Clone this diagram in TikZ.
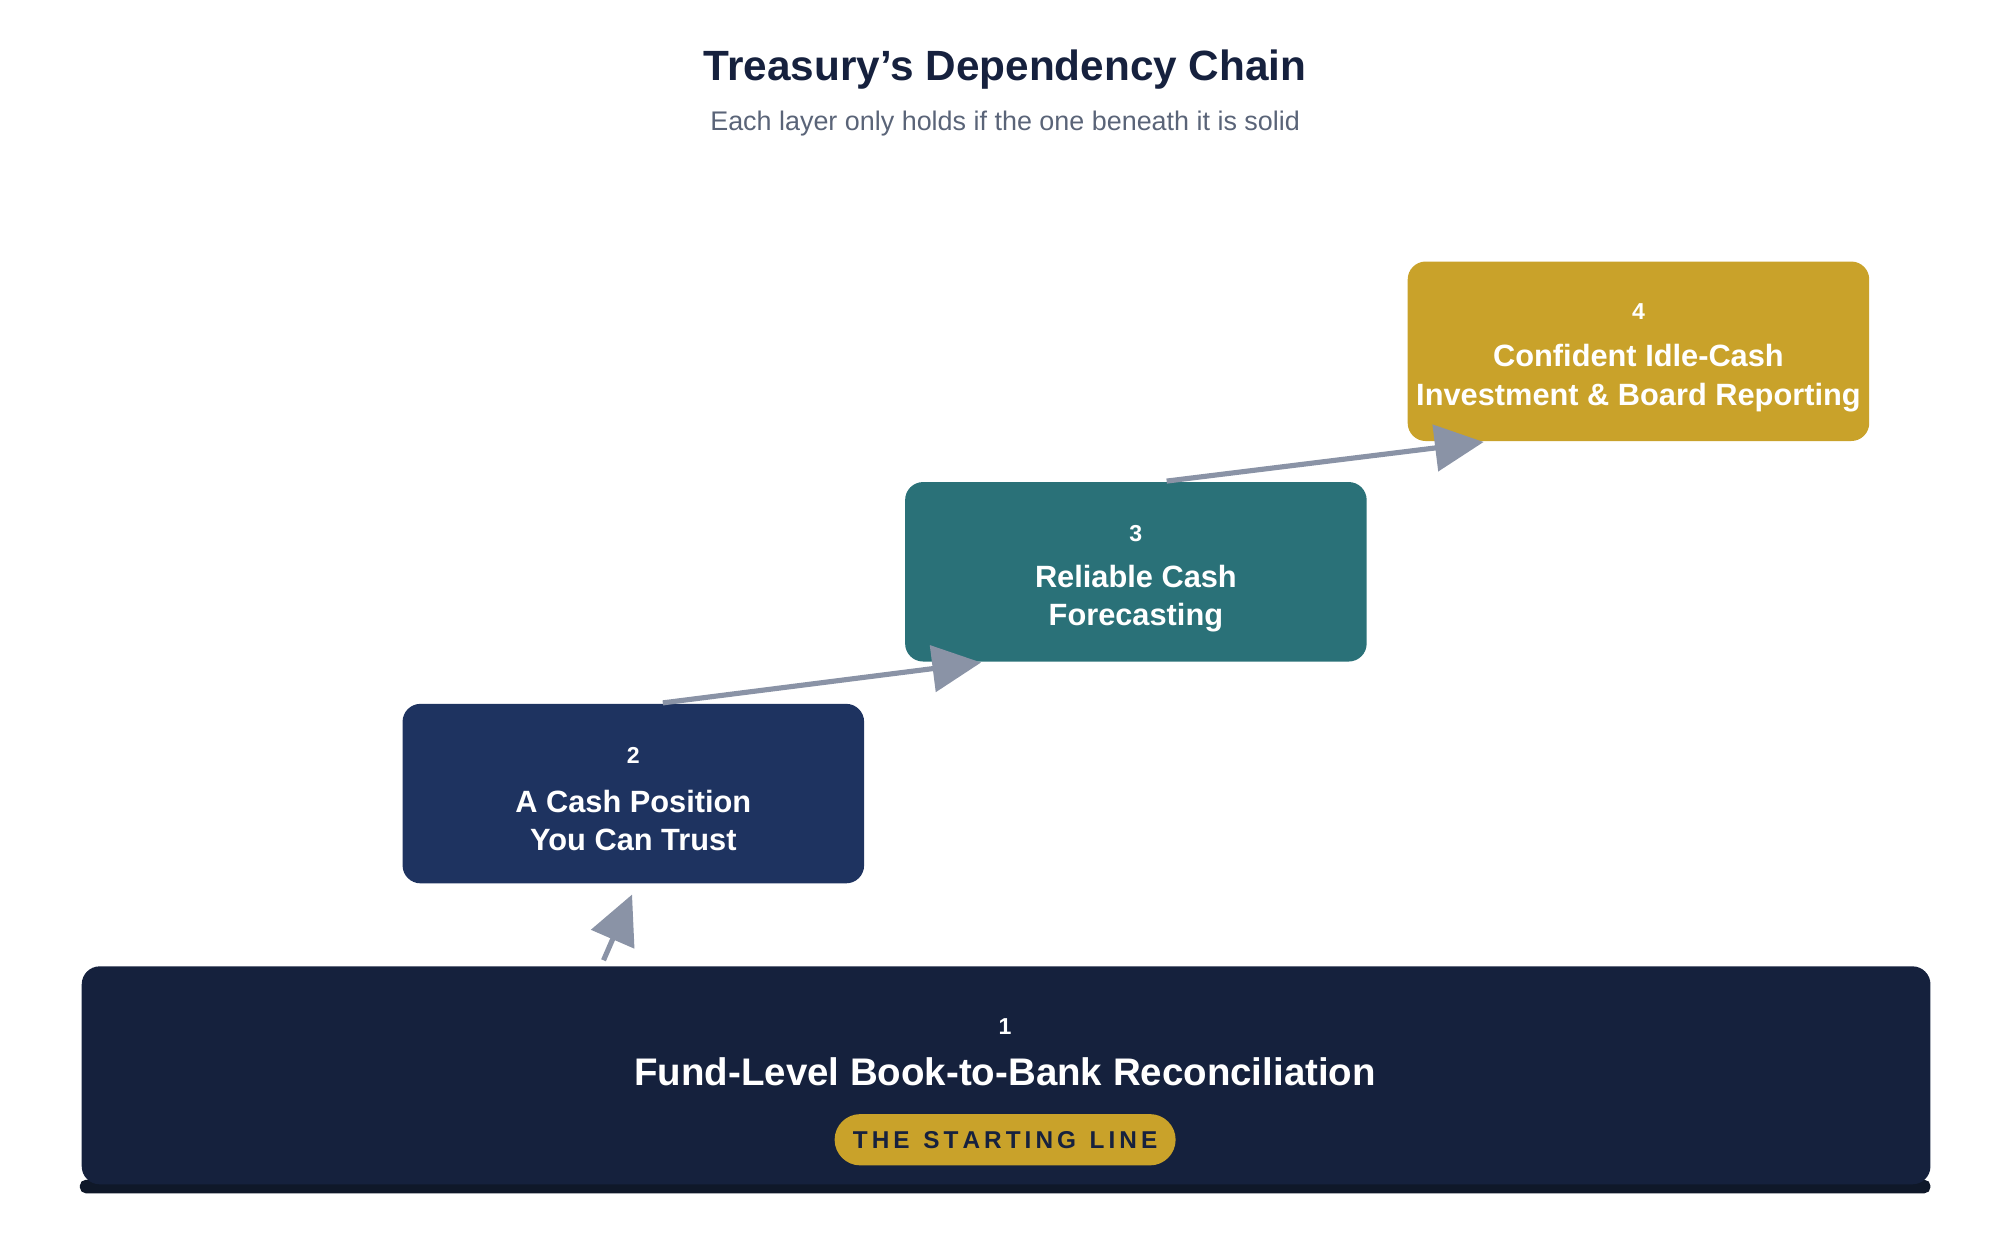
\documentclass[tikz,border=0pt]{standalone}
\usepackage{fontspec}
\setmainfont{Liberation Sans}
\usetikzlibrary{arrows.meta,calc}
\definecolor{inkNavy}{HTML}{16213E}
\definecolor{subGray}{HTML}{5A6478}
\definecolor{goldTier}{HTML}{C9A22A}
\definecolor{tealTier}{HTML}{2A7178}
\definecolor{navyTier}{HTML}{1E3360}
\definecolor{baseTier}{HTML}{15213D}
\definecolor{baseEdge}{HTML}{0F1829}
\definecolor{linkGray}{HTML}{8A93A6}
\tikzset{every picture/.style={line width=0.75pt}}
\tikzset{
  tier/.style={rounded corners=7pt, minimum width=180pt, minimum height=70pt, inner sep=0pt},
  tiertext/.style={text=white, font=\bfseries\fontsize{12}{15}\selectfont, align=center},
  tiernum/.style={text=white, font=\bfseries\fontsize{9}{11}\selectfont},
  link/.style={draw=linkGray, line width=2pt, -{Triangle[length=19pt,width=18pt]}}
}
\begin{document}
\begin{tikzpicture}[x=0.5pt,y=0.5pt,yscale=-1,xscale=1]
\useasboundingbox (0,0) rectangle (1560,967);

% title
\node (title) [text=inkNavy, font=\bfseries\fontsize{16.5}{20}\selectfont] at (784,54) {Treasury's Dependency Chain};
\node (subtitle) [text=subGray, font=\fontsize{10.5}{13}\selectfont] at (784,96) {Each layer only holds if the one beneath it is solid};

% tier 1 (base)
\draw [baseEdge, fill=baseEdge, rounded corners=2pt] (63,921) rectangle (1505,930);
\node (b1) [tier, fill=baseTier, minimum width=721pt, minimum height=85pt, anchor=north west] at (63,753) {};
\node (n1) [tiernum] at (784,801) {1};
\node (t1) [text=white, font=\bfseries\fontsize{15}{18}\selectfont] at (784,836) {Fund-Level Book-to-Bank Reconciliation};
\node (pill) [fill=goldTier, rounded corners=10pt, minimum width=133pt, minimum height=20pt, text=inkNavy, font=\bfseries\fontsize{9.5}{11}\selectfont] at (784,889) {T\,H\,E\ \ S\,T\,A\,R\,T\,I\,N\,G\ \ L\,I\,N\,E};

% tier 2
\node (b2) [tier, fill=navyTier] at (494,619) {};
\node (n2) [tiernum] at (494,589) {2};
\node (t2) [tiertext] at (494,640) {A Cash Position\\You Can Trust};

% tier 3
\node (b3) [tier, fill=tealTier] at (886,446) {};
\node (n3) [tiernum] at (886,416) {3};
\node (t3) [tiertext] at (886,467) {Reliable Cash\\Forecasting};

% tier 4
\node (b4) [tier, fill=goldTier] at (1278,274) {};
\node (n4) [tiernum] at (1278,243) {4};
\node (t4) [tiertext] at (1278,295) {Confident Idle-Cash\\Investment \& Board Reporting};

% links
\draw [link] ($(b1.north)+(-314,-4)$) -- ($(b2.south)+(-1,8)$);
\draw [link] ($(b2.north)+(23,0)$) -- ($(b3.south west)+(60,0)$);
\draw [link] ($(b3.north)+(24,0)$) -- ($(b4.south west)+(60,0)$);
\end{tikzpicture}
\end{document}
